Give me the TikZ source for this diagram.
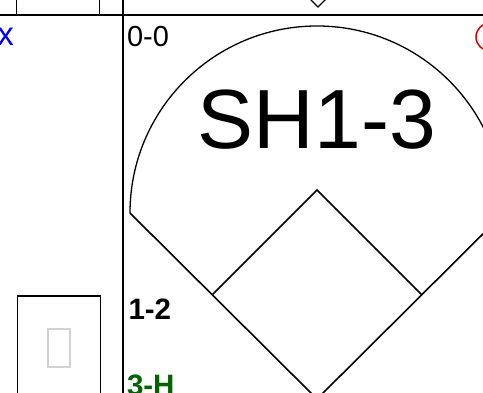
\documentclass[tikz,border=0pt]{standalone}
\usepackage{fontspec}
\setmainfont{Liberation Sans}
\definecolor{fieldgreen}{RGB}{0,100,0}
\definecolor{softgray}{RGB}{210,210,210}
\begin{document}
\begin{tikzpicture}[x=1pt,y=1pt,
  rule/.style={draw=black,line width=1.8pt},
  boxline/.style={draw=black,line width=1.4pt},
  field/.style={draw=black,line width=1.6pt},
  lbl/.style={inner sep=0pt,outer sep=0pt,anchor=base west}]
\useasboundingbox (0,0) rectangle (483,393);
\clip (0,0) rectangle (483,393);
\fill[white] (0,0) rectangle (483,393);
% grid lines
\coordinate (hl) at (0,378);
\coordinate (hr) at (483,378);
\draw[rule] (hl) -- (hr);
\coordinate (vt) at (123,393);
\coordinate (vb) at (123,0);
\draw[rule] (vt) -- (vb);
% top-left box remainder
\coordinate (tb1) at (16.5,393);
\coordinate (tb2) at (16.5,378);
\coordinate (tb3) at (99.5,393);
\coordinate (tb4) at (99.5,378);
\draw[boxline] (tb1) -- (tb2);
\draw[boxline] (tb3) -- (tb4);
% bottom-left box
\node[boxline,rectangle,minimum width=83pt,minimum height=110pt,inner sep=0pt,anchor=north west] (box) at (16.5,97.5) {};
\node[draw=softgray,line width=1.4pt,rectangle,minimum width=22pt,minimum height=38pt,inner sep=0pt] (inner) at (59,45) {};
% small diamond at top
\coordinate (d1) at (311,393);
\coordinate (d2) at (318,386);
\coordinate (d3) at (325,393);
\coordinate (d4) at (318,400);
\draw[boxline] (d1) -- (d2) -- (d3) -- (d4) -- cycle;
% field
\coordinate (home) at (317,-6);
\coordinate (lf) at (130,180);
\coordinate (rf) at (504,180);
\coordinate (first) at (421.5,98.5);
\coordinate (second) at (317,203);
\coordinate (third) at (212.5,98.5);
\draw[line width=1.3pt] (lf) arc[start angle=180,end angle=0,radius=187];
\draw[field] (lf) -- (home) -- (rf);
\draw[field] (third) -- (second) -- (first);
% texts
\node[lbl,anchor=base east,text=blue,font=\fontsize{33}{33}\selectfont] (xmark) at (14,347) {x};
\node[lbl,font=\fontsize{29}{29}\selectfont] (count) at (127,346.5) {0-0};
\node[inner sep=0pt,anchor=base,font=\fontsize{84}{84}\selectfont] (play) at (317,244) {SH1-3};
\node[lbl,font=\bfseries\fontsize{29.5}{29.5}\selectfont] (one) at (128.5,73) {1-2};
\node[lbl,text=fieldgreen,font=\bfseries\fontsize{29.5}{29.5}\selectfont] (three) at (127,-3) {3-H};
\node[draw=red!85!black,line width=1.5pt,circle,minimum size=28pt,inner sep=0pt] (red) at (490,356) {};
\end{tikzpicture}
\end{document}
